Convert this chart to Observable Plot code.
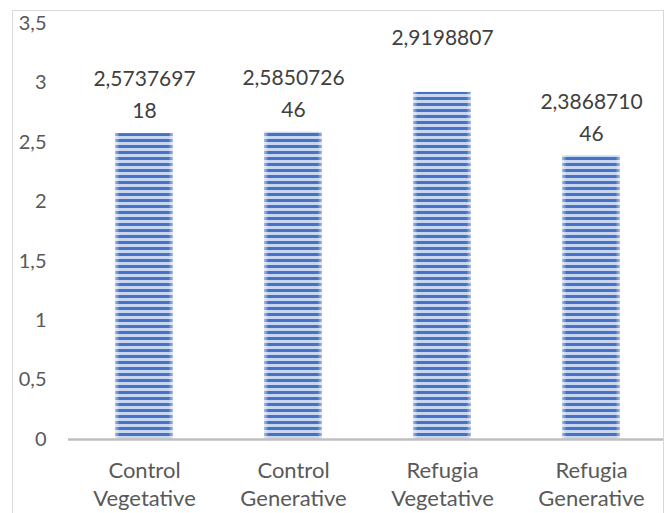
<!DOCTYPE html>
<html><head><meta charset="utf-8">
<script src="https://cdn.jsdelivr.net/npm/d3@7"></script>
<script src="https://cdn.jsdelivr.net/npm/@observablehq/plot@0.6"></script>
<style>
body{margin:0;background:#fff;}
#wrap{position:relative;width:665px;height:513px;overflow:hidden;}
#border{position:absolute;left:12px;top:10px;width:650px;height:530px;border:1px solid #d9d9d9;pointer-events:none;}
#wrap svg{position:absolute;left:0;top:0;}
</style></head><body><div id="wrap"><div id="border"></div></div>
<script>
const categories = ["Control\nVegetative","Control\nGenerative","Refugia\nVegetative","Refugia\nGenerative"];
const values = [2.573769718, 2.585072646, 2.9198807, 2.386871046];
const labelLine1 = ["2,5737697","2,5850726","2,9198807","2,3868710"];
const labelLine2 = ["18","46","","46"];
const yTicks = [0,0.5,1,1.5,2,2.5,3,3.5];
const yTickLabels = ["0","0,5","1","1,5","2","2,5","3","3,5"];

const data = categories.map((c,i)=>({c, v: values[i], l1: labelLine1[i], l2: labelLine2[i]}));

const plot = Plot.plot({
  width:665, height:513,
  marginLeft:68, marginRight:2, marginTop:23, marginBottom:74,
  style:{fontFamily:"Lato", background:"transparent", overflow:"visible"},
  x:{domain:categories, range:[68,667], paddingInner:0.61, paddingOuter:0.305, axis:null},
  y:{domain:[0,3.5], axis:null},
  marks:[
    Plot.barY(data,{x:"c", y:"v", fill:"url(#stripes)"}),
    Plot.barY(data,{x:"c", y:"v", fill:"url(#edge)"}),
    Plot.ruleY([0],{stroke:"#bfbfbf", strokeWidth:2.5}),
    Plot.axisY(yTicks,{tickSize:0, tickPadding:22, label:null, tickFormat:d=>yTickLabels[yTicks.indexOf(d)], fontSize:20, fill:"#595959"}),
    Plot.axisX({tickSize:0, tickPadding:19, label:null, fontSize:22, lineHeight:1.27, fill:"#595959"}),
    Plot.text(data,{x:"c", y:"v", text:"l1", dy:-54, fontSize:21, fill:"#404040"}),
    Plot.text(data,{x:"c", y:"v", text:"l2", dy:-22, fontSize:21, fill:"#404040"})
  ]
});
const svg = d3.select(plot);
const defs = svg.insert("defs", ":first-child");
const pat = defs.append("pattern").attr("id","stripes").attr("patternUnits","userSpaceOnUse")
  .attr("width",10).attr("height",6).attr("y",1);
pat.append("rect").attr("width",10).attr("height",6).attr("fill","#c9d6ef");
pat.append("rect").attr("width",10).attr("height",3).attr("fill","#4472c4");
const g = defs.append("linearGradient").attr("id","edge").attr("x1",0).attr("x2",1).attr("y1",0).attr("y2",0);
[[0,0.55],[0.08,0],[0.92,0],[1,0.55]].forEach(([o,a])=>g.append("stop").attr("offset",o).attr("stop-color","#ffffff").attr("stop-opacity",a));
document.getElementById("wrap").appendChild(plot);
</script></body></html>
